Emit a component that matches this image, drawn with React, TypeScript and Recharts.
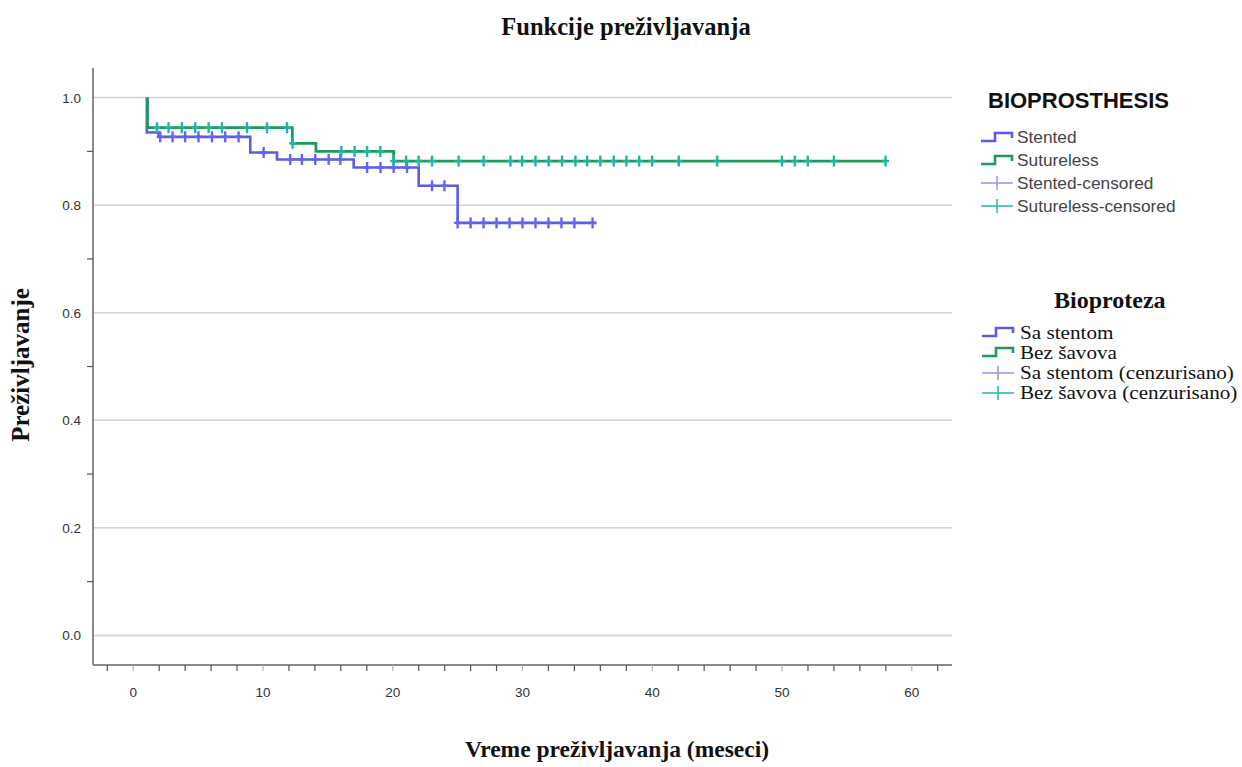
import { ComposedChart, Line, Scatter, XAxis, YAxis, ReferenceLine } from 'recharts';

// Kaplan-Meier step points (time in months, cumulative survival)
const stentedTimes = [1.05, 1.05, 1.95, 9.02, 11.08, 16.99, 22.0, 25.0, 35.7];
const stentedSurvival = [1.0, 0.935, 0.927, 0.898, 0.885, 0.870, 0.836, 0.767, 0.767];
const suturelessTimes = [1.1, 1.1, 12.26, 14.08, 20.07, 58.0];
const suturelessSurvival = [1.0, 0.944, 0.915, 0.9, 0.882, 0.882];

// censored observations (time in months)
const stentedCensored = [
  2.08, 3.03, 4.0, 5.03, 6.07, 7.09, 8.12, 10.05, 12.1, 13.0, 14.03, 15.06, 15.96,
  18.02, 19.06, 20.07, 21.1, 23.03, 23.98, 25.0, 26.0, 27.0, 28.0, 29.0, 30.0, 31.0,
  32.0, 33.0, 34.0, 35.4,
];
const suturelessCensored = [
  1.83, 2.72, 3.75, 4.78, 5.81, 6.84, 8.77, 10.31, 11.85, 12.28, 16.04, 17.06, 18.02,
  19.04, 20.07, 21.03, 22.0, 23.03, 25.08, 27.01, 29.07, 29.97, 31.0, 32.02, 33.05,
  34.08, 34.98, 36.0, 37.03, 38.01, 38.99, 39.99, 42.04, 45.0, 50.0, 50.99, 51.99, 54.0,
  57.98,
];

const xTicks = [-2, 0, 2, 4, 6, 8, 10, 12, 14, 16, 18, 20, 22, 24, 26, 28, 30, 32, 34, 36, 38, 40, 42, 44, 46, 48, 50, 52, 54, 56, 58, 60, 62];
const xLabels = [0, 10, 20, 30, 40, 50, 60];
const yTicks = [0, 0.1, 0.2, 0.3, 0.4, 0.5, 0.6, 0.7, 0.8, 0.9, 1.0];
const yGrid = [0, 0.2, 0.4, 0.6, 0.8, 1.0];

const legendEn = ['Stented', 'Sutureless', 'Stented-censored', 'Sutureless-censored'];
const legendSr = ['Sa stentom', 'Bez šavova', 'Sa stentom (cenzurisano)', 'Bez šavova (cenzurisano)'];

const BLUE = '#5b5be6';
const GREEN = '#1c9a5e';
const BLUE_MARK = '#6464ee';
const TEAL_MARK = '#22b3a6';
const SANS = '"Liberation Sans", Arial, sans-serif';
const SERIF = '"Liberation Serif", "Times New Roman", serif';

const zip = (ts: number[], vs: number[]) => ts.map((t, i) => ({ t, s: vs[i] }));

function survivalAt(ts: number[], vs: number[], t: number) {
  let v = vs[0];
  for (let i = 0; i < ts.length; i++) if (ts[i] <= t + 1e-9) v = vs[i];
  return v;
}

const stentedLine = zip(stentedTimes, stentedSurvival);
const suturelessLine = zip(suturelessTimes, suturelessSurvival);
const stentedMarks = stentedCensored.map((t) => ({ t, s: survivalAt(stentedTimes, stentedSurvival, t) }));
const suturelessMarks = suturelessCensored.map((t) => ({ t, s: survivalAt(suturelessTimes, suturelessSurvival, t) }));

const censorShape = (color: string) => (props: any) => {
  const { cx, cy } = props;
  return (
    <g stroke={color} strokeWidth={2.4}>
      <line x1={cx} x2={cx} y1={cy - 5.5} y2={cy + 5.5} />
      <line x1={cx - 3.5} x2={cx + 3.5} y1={cy} y2={cy} />
    </g>
  );
};

const XTick = (props: any) => {
  const { x, y, payload } = props;
  const major = xLabels.includes(payload.value);
  return (
    <g>
      <line x1={x} x2={x} y1={y} y2={y + 6} stroke={major ? '#b0b0b0' : '#555'} strokeWidth={1.2} />
      {major && (
        <text x={x} y={y + 32} textAnchor="middle" fontSize={13.5} fontFamily={SANS} fill="#333">
          {payload.value}
        </text>
      )}
    </g>
  );
};

const YTick = (props: any) => {
  const { x, y, payload } = props;
  const major = yGrid.some((g) => Math.abs(g - payload.value) < 1e-6);
  return (
    <g>
      {!major && <line x1={x - 6} x2={x} y1={y} y2={y} stroke="#555" strokeWidth={1.2} />}
      {major && (
        <text x={x - 12} y={y + 5} textAnchor="end" fontSize={13.5} fontFamily={SANS} fill="#333">
          {payload.value.toFixed(1)}
        </text>
      )}
    </g>
  );
};

function StepIcon({ color }: { color: string }) {
  return (
    <svg width={34} height={14} style={{ display: 'block', flex: 'none' }}>
      <path d="M1,11 H15 V3 H32 V8" fill="none" stroke={color} strokeWidth={2.6} />
    </svg>
  );
}

function CrossIcon({ color }: { color: string }) {
  return (
    <svg width={34} height={14} style={{ display: 'block', flex: 'none' }}>
      <line x1={1} x2={33} y1={7} y2={7} stroke={color} strokeWidth={1.6} />
      <line x1={17} x2={17} y1={0} y2={14} stroke={color} strokeWidth={1.6} />
    </svg>
  );
}

const legendIcons = [
  <StepIcon color={BLUE} />,
  <StepIcon color={GREEN} />,
  <CrossIcon color="#9a9af0" />,
  <CrossIcon color="#2bbdb0" />,
];

export default function App() {
  return (
    <div style={{ position: 'absolute', left: 0, top: 0, width: 1242, height: 767, background: '#fff' }}>
      <ComposedChart
        width={1242}
        height={767}
        margin={{ top: 68, right: 290, bottom: 72, left: 33 }}
      >
        {yGrid.map((g) => (
          <ReferenceLine key={g} y={g} stroke="#d2d2d2" strokeWidth={1.5} />
        ))}
        <XAxis
          dataKey="t"
          type="number"
          domain={[-3.1, 63.1]}
          ticks={xTicks}
          interval={0}
          height={30}
          tickSize={0}
          tickMargin={0}
          tickLine={false}
          axisLine={{ stroke: '#8a8a8a', strokeWidth: 2 }}
          tick={XTick}
          allowDataOverflow
        />
        <YAxis
          dataKey="s"
          type="number"
          domain={[-0.055, 1.055]}
          ticks={yTicks}
          interval={0}
          width={60}
          tickSize={0}
          tickMargin={0}
          tickLine={false}
          axisLine={{ stroke: '#8a8a8a', strokeWidth: 2 }}
          tick={YTick}
          allowDataOverflow
        />
        <Line
          data={stentedLine}
          dataKey="s"
          type="stepAfter"
          stroke={BLUE}
          strokeWidth={2.6}
          dot={false}
          activeDot={false}
          isAnimationActive={false}
        />
        <Line
          data={suturelessLine}
          dataKey="s"
          type="stepAfter"
          stroke={GREEN}
          strokeWidth={2.8}
          dot={false}
          activeDot={false}
          isAnimationActive={false}
        />
        <Scatter data={stentedMarks} dataKey="s" shape={censorShape(BLUE_MARK)} isAnimationActive={false} />
        <Scatter data={suturelessMarks} dataKey="s" shape={censorShape(TEAL_MARK)} isAnimationActive={false} />
      </ComposedChart>

      <div
        style={{
          position: 'absolute', left: 0, width: 1252, top: 13, textAlign: 'center',
          fontFamily: SERIF, fontWeight: 'bold', fontSize: 24.5, color: '#111',
        }}
      >
        Funkcije preživljavanja
      </div>
      <div
        style={{
          position: 'absolute', left: 0, width: 1234, top: 736, textAlign: 'center',
          fontFamily: SERIF, fontWeight: 'bold', fontSize: 23.5, color: '#111',
        }}
      >
        Vreme preživljavanja (meseci)
      </div>
      <div
        style={{
          position: 'absolute', left: 21, top: 365, transform: 'translate(-50%, -50%) rotate(-90deg)',
          whiteSpace: 'nowrap', fontFamily: SERIF, fontWeight: 'bold', fontSize: 25, color: '#111',
        }}
      >
        Preživljavanje
      </div>

      {/* SPSS legend, English */}
      <div style={{ position: 'absolute', left: 988, top: 88, fontFamily: SANS, fontWeight: 'bold', fontSize: 22, color: '#111' }}>
        BIOPROSTHESIS
      </div>
      {legendEn.map((name, i) => (
        <div
          key={name}
          style={{
            position: 'absolute', left: 980, top: 126 + i * 23, height: 22, display: 'flex',
            alignItems: 'center', fontFamily: SANS, fontSize: 17.3, color: '#444', whiteSpace: 'nowrap',
          }}
        >
          {legendIcons[i]}
          <span style={{ marginLeft: 3 }}>{name}</span>
        </div>
      ))}

      {/* legend, Serbian */}
      <div
        style={{
          position: 'absolute', left: 1054, top: 287, fontFamily: SERIF, fontWeight: 'bold', fontSize: 24, color: '#111',
        }}
      >
        Bioproteza
      </div>
      {legendSr.map((name, i) => (
        <div
          key={name}
          style={{
            position: 'absolute', left: 981, top: 322 + i * 20.3, height: 20, display: 'flex',
            alignItems: 'center', fontFamily: SERIF, fontSize: 19.5, color: '#111', whiteSpace: 'nowrap',
          }}
        >
          {legendIcons[i]}
          <span
            style={{
              display: 'inline-block', marginLeft: 5, lineHeight: '19px', height: 19, overflow: 'visible',
              transform: 'scaleX(1.085)', transformOrigin: 'left center',
            }}
          >
            {name}
          </span>
        </div>
      ))}
    </div>
  );
}
